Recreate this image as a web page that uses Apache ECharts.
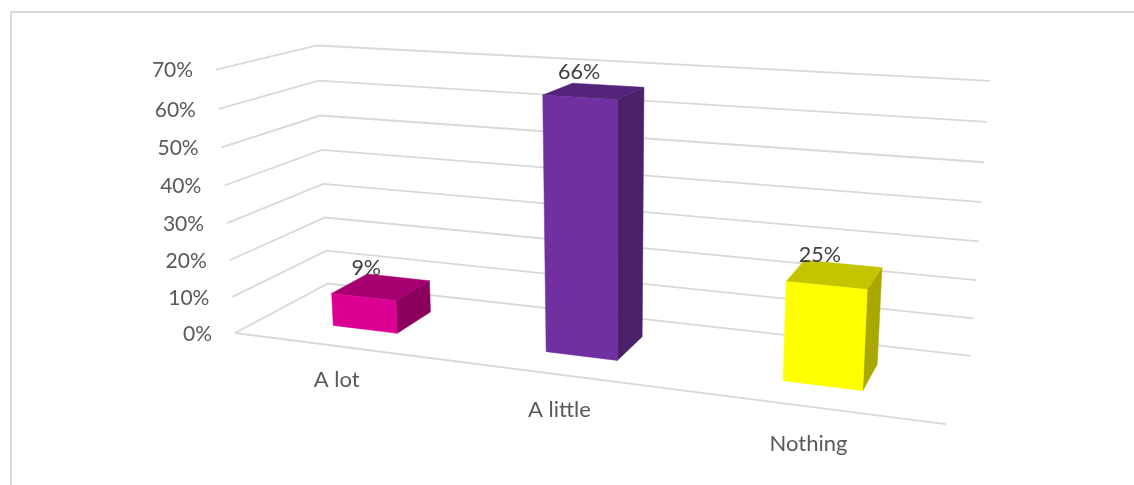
<!DOCTYPE html>
<html>
<head>
<meta charset="utf-8">
<style>html,body{margin:0;padding:0;background:#fff}#chart{width:1134px;height:485px}</style>
<script src="https://cdn.jsdelivr.net/npm/echarts@6/dist/echarts.min.js"></script>
</head>
<body>
<div id="chart"></div>
<script>
const categories = ['A lot', 'A little', 'Nothing'];
const values = [0.09, 0.66, 0.25];
const valueTicks = [0, 0.1, 0.2, 0.3, 0.4, 0.5, 0.6, 0.7];
const tickLabels = ['0%', '10%', '20%', '30%', '40%', '50%', '60%', '70%'];
const faceColors = ['#DC0092', '#7030A0', '#FFFF00'];
const topColors = ['#A60070', '#54247A', '#C4C400'];
const sideColors = ['#8A005C', '#4A2068', '#A8A800'];

// Perspective camera: unit cube (x along categories, y up, z towards viewer) -> screen
function project(x, y, z) {
  const w = 1 - 0.1398 * x - 0.0406 * y - 0.1 * z;
  return [
    (328 + 507.3 * x - 23.9 * y - 116.5 * z) / w - 2.2 * y * z,
    (283.5 + 22.7 * x - 239.85 * y + 16.2 * z) / w
  ];
}
const GRID = '#D9D9D9', AXIS_TEXT = '#595959', LABEL_TEXT = '#404040';
const TICK_FONT = '21px Lato', CATEGORY_FONT = '22px Lato', LABEL_FONT = '21.5px Lato';
const BAR_WIDTH = 0.312, DEPTH_BACK = 0.295, DEPTH_FRONT = 0.70;

function unitX(params, px) { const r = params.coordSys; return (px - r.x) / r.width; }
function unitY(params, py) { const r = params.coordSys; return (r.y + r.height - py) / r.height; }

function renderTick(params, api) {
  const y = unitY(params, api.coord([0, api.value(1)])[1]);
  const f = project(0, y, 1), b = project(0, y, 0), r = project(1, y, 0);
  return {
    type: 'group',
    children: [
      { type: 'polyline', shape: { points: [f, b, r] },
        style: { stroke: GRID, lineWidth: 1.8, fill: null } },
      { type: 'text', style: { x: f[0] - 23, y: f[1] + 1, text: tickLabels[params.dataIndex],
        fill: AXIS_TEXT, font: TICK_FONT, align: 'right', verticalAlign: 'middle' } }
    ]
  };
}

function renderFloor(params, api) {
  const c = api.coord([api.value(0), 0]);
  const x = unitX(params, c[0]);
  const children = [];
  if (params.dataIndex === 0) {
    children.push({ type: 'line',
      shape: { x1: project(0, 0, 1)[0], y1: project(0, 0, 1)[1], x2: project(1, 0, 1)[0], y2: project(1, 0, 1)[1] },
      style: { stroke: GRID, lineWidth: 1.8 } });
  }
  const p = project(x, 0, 1);
  children.push({ type: 'text', style: { x: p[0] - 1, y: p[1] + 34 + params.dataIndex * 1.5, text: categories[params.dataIndex],
    fill: AXIS_TEXT, font: CATEGORY_FONT, align: 'center', verticalAlign: 'middle' } });
  return { type: 'group', children };
}

function renderBar(params, api) {
  const i = params.dataIndex;
  const c = api.coord([api.value(0), api.value(1)]);
  const half = unitX(params, params.coordSys.x + api.size([1, 0])[0]) * BAR_WIDTH / 2;
  const cx = unitX(params, c[0]), h = unitY(params, c[1]);
  const x0 = cx - half, x1 = cx + half;
  const zb = DEPTH_BACK, zf = DEPTH_FRONT;
  const poly = (pts, fill) => ({ type: 'polygon', shape: { points: pts }, style: { fill, stroke: fill, lineWidth: 0.5 } });
  const top = project(cx, h, (zb + zf) / 2);
  return {
    type: 'group',
    children: [
      poly([project(x1, 0, zf), project(x1, 0, zb), project(x1, h, zb), project(x1, h, zf)], sideColors[i]),
      poly([project(x0, h, zf), project(x1, h, zf), project(x1, h, zb), project(x0, h, zb)], topColors[i]),
      poly([project(x0, 0, zf), project(x1, 0, zf), project(x1, h, zf), project(x0, h, zf)], faceColors[i]),
      { type: 'text', style: { x: top[0] - 15, y: top[1] - 19, text: Math.round(values[i] * 100) + '%',
        fill: LABEL_TEXT, font: LABEL_FONT, align: 'center', verticalAlign: 'middle' } }
    ]
  };
}

const chart = echarts.init(document.getElementById('chart'), null, { renderer: 'canvas' });
chart.setOption({
  animation: false,
  backgroundColor: '#ffffff',
  grid: { left: 0, right: 0, top: 0, bottom: 0 },
  xAxis: { type: 'category', data: categories, show: false },
  yAxis: { type: 'value', min: 0, max: 0.7, interval: 0.1, show: false },
  graphic: [
    { type: 'line', shape: { x1: 11, y1: 12, x2: 1134, y2: 12 }, style: { stroke: GRID, lineWidth: 2 } },
    { type: 'line', shape: { x1: 11, y1: 11, x2: 11, y2: 485 }, style: { stroke: GRID, lineWidth: 2 } }
  ],
  series: [
    { type: 'custom', silent: true, z: 1, renderItem: renderTick,
      data: valueTicks.map(v => [0, v]) },
    { type: 'custom', silent: true, z: 1, renderItem: renderFloor,
      data: categories.map((c, i) => [i, 0]) },
    { type: 'custom', silent: true, z: 2, renderItem: renderBar,
      data: values.map((v, i) => [i, v]) }
  ]
});
</script>
</body>
</html>
